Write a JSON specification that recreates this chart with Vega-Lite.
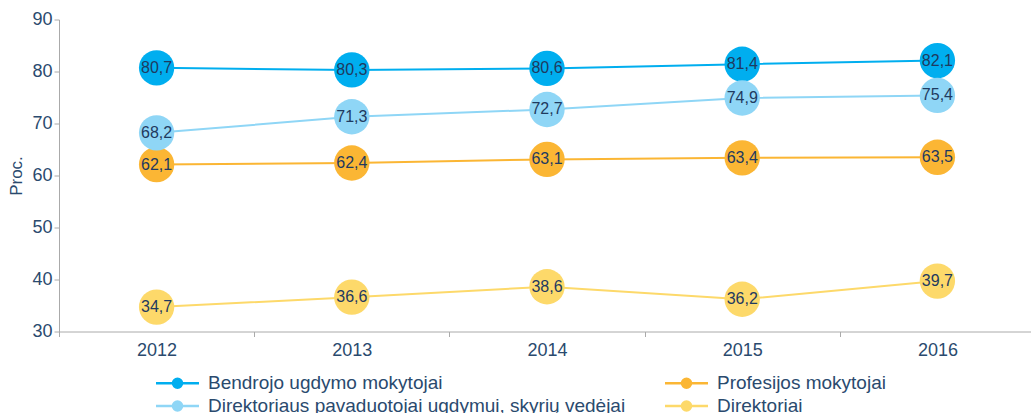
{
  "$schema": "https://vega.github.io/schema/vega-lite/v6.json",
  "width": 976,
  "height": 312,
  "autosize": {"type": "none"},
  "padding": {"left": 59, "top": 19.5, "right": 0, "bottom": 81.5},
  "config": {
    "font": "Liberation Sans",
    "view": {"stroke": null},
    "locale": {"number": {"decimal": ",", "thousands": " ", "grouping": [3], "currency": ["", " €"]}}
  },
  "data": {
    "values": [
      {"metai": "2012", "grupe": "Bendrojo ugdymo mokytojai", "reiksme": 80.7},
      {"metai": "2013", "grupe": "Bendrojo ugdymo mokytojai", "reiksme": 80.3},
      {"metai": "2014", "grupe": "Bendrojo ugdymo mokytojai", "reiksme": 80.6},
      {"metai": "2015", "grupe": "Bendrojo ugdymo mokytojai", "reiksme": 81.4},
      {"metai": "2016", "grupe": "Bendrojo ugdymo mokytojai", "reiksme": 82.1},
      {"metai": "2012", "grupe": "Profesijos mokytojai", "reiksme": 62.1},
      {"metai": "2013", "grupe": "Profesijos mokytojai", "reiksme": 62.4},
      {"metai": "2014", "grupe": "Profesijos mokytojai", "reiksme": 63.1},
      {"metai": "2015", "grupe": "Profesijos mokytojai", "reiksme": 63.4},
      {"metai": "2016", "grupe": "Profesijos mokytojai", "reiksme": 63.5},
      {"metai": "2012", "grupe": "Direktoriaus pavaduotojai ugdymui, skyrių vedėjai", "reiksme": 68.2},
      {"metai": "2013", "grupe": "Direktoriaus pavaduotojai ugdymui, skyrių vedėjai", "reiksme": 71.3},
      {"metai": "2014", "grupe": "Direktoriaus pavaduotojai ugdymui, skyrių vedėjai", "reiksme": 72.7},
      {"metai": "2015", "grupe": "Direktoriaus pavaduotojai ugdymui, skyrių vedėjai", "reiksme": 74.9},
      {"metai": "2016", "grupe": "Direktoriaus pavaduotojai ugdymui, skyrių vedėjai", "reiksme": 75.4},
      {"metai": "2012", "grupe": "Direktoriai", "reiksme": 34.7},
      {"metai": "2013", "grupe": "Direktoriai", "reiksme": 36.6},
      {"metai": "2014", "grupe": "Direktoriai", "reiksme": 38.6},
      {"metai": "2015", "grupe": "Direktoriai", "reiksme": 36.2},
      {"metai": "2016", "grupe": "Direktoriai", "reiksme": 39.7}
    ]
  },
  "encoding": {
    "x": {
      "field": "metai", "type": "nominal",
      "scale": {"type": "band", "paddingInner": 0, "paddingOuter": 0},
      "axis": {
        "title": null, "labelAngle": 0, "labelFontSize": 18, "labelColor": "#2a4a6e",
        "labelPadding": 5, "domainColor": "#aaaaaa", "tickColor": "#aaaaaa",
        "tickBand": "extent", "tickSize": 5
      }
    },
    "y": {
      "field": "reiksme", "type": "quantitative",
      "scale": {"domain": [30, 90], "nice": false, "zero": false},
      "axis": {
        "title": "Proc.", "titleFontSize": 17, "titleFontWeight": "normal", "titleColor": "#2a4a6e",
        "titlePadding": 6,
        "values": [30, 40, 50, 60, 70, 80, 90],
        "grid": false, "labelFontSize": 18, "labelColor": "#2a4a6e", "labelPadding": 2,
        "domainColor": "#aaaaaa", "tickColor": "#aaaaaa", "tickSize": 5
      }
    },
    "color": {
      "field": "grupe", "type": "nominal",
      "scale": {
        "domain": ["Bendrojo ugdymo mokytojai", "Profesijos mokytojai", "Direktoriaus pavaduotojai ugdymui, skyrių vedėjai", "Direktoriai"],
        "range": ["#00aeef", "#fbb634", "#8fd6f6", "#fdd96a"]
      },
      "legend": {
        "title": null, "orient": "none", "legendX": 109, "legendY": 354,
        "columns": 2, "direction": "horizontal", "columnPadding": 34, "rowPadding": 3,
        "labelFontSize": 19, "labelColor": "#2a4a6e", "labelOffset": 21, "labelLimit": 600,
        "symbolType": "M-4.3,0L4.3,0M-0.9,0A0.9,0.9 0 1,0 0.9,0A0.9,0.9 0 1,0 -0.9,0Z",
        "symbolSize": 100, "symbolStrokeWidth": 2.5, "symbolOpacity": 1,
        "encode": {
          "symbols": {"update": {
            "fill": {"scale": "color", "field": "value"},
            "stroke": {"scale": "color", "field": "value"},
            "fillOpacity": {"value": 1}
          }}
        }
      }
    }
  },
  "layer": [
    {"mark": {"type": "line", "strokeWidth": 2}},
    {"mark": {"type": "point", "filled": true, "opacity": 1, "size": 1250}},
    {"mark": {"type": "text", "fontSize": 16, "color": "#1f3a60"},
     "encoding": {"text": {"field": "reiksme", "type": "quantitative", "format": ".1f"}, "color": {"value": "#1f3a60"}}}
  ]
}
